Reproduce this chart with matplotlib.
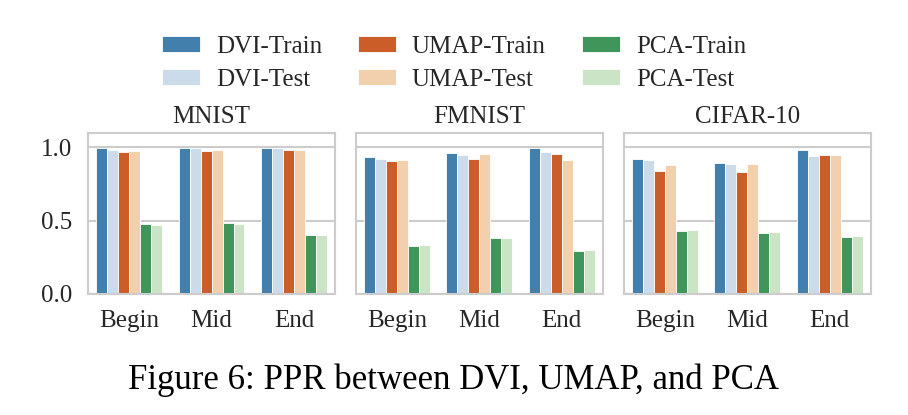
import numpy as np
import seaborn as sns
from matplotlib import pyplot as plt

datasets = ['MNIST', 'FMNIST', 'CIFAR-10']
stages = ['Begin', 'Mid', 'End']
methods = ['DVI-Train', 'DVI-Test', 'UMAP-Train', 'UMAP-Test', 'PCA-Train', 'PCA-Test']

# values per dataset: rows = stages, columns = methods
mnist = [[0.993, 0.984, 0.972, 0.977, 0.476, 0.469],
         [0.998, 0.995, 0.979, 0.984, 0.485, 0.476],
         [0.998, 0.998, 0.982, 0.982, 0.404, 0.400]]
fmnist = [[0.933, 0.922, 0.910, 0.915, 0.329, 0.332],
          [0.961, 0.949, 0.922, 0.952, 0.382, 0.380],
          [0.993, 0.972, 0.954, 0.917, 0.290, 0.300]]
cifar = [[0.924, 0.915, 0.836, 0.882, 0.427, 0.439],
         [0.896, 0.887, 0.834, 0.885, 0.416, 0.425],
         [0.982, 0.940, 0.947, 0.947, 0.388, 0.395]]
values = [mnist, fmnist, cifar]

sns.set_style('whitegrid')
plt.rcParams['font.family'] = ['Liberation Serif', 'DejaVu Serif']

tab = sns.color_palette('tab20c')
colors = [sns.desaturate(tab[i], 0.75) for i in [0, 3, 4, 7, 8, 11]]

fig = plt.figure(figsize=(9.08, 4.15), dpi=100)
lefts = [0.097, 0.392, 0.687]
w = 0.272
fs = 18
axes = []
for k in range(3):
    ax = fig.add_axes([lefts[k], 0.292, w, 0.388])
    axes.append(ax)
    data = np.array(values[k])
    x = np.arange(len(stages))
    bw = 0.8 / len(methods)
    for j, m in enumerate(methods):
        ax.bar(x - 0.4 + bw * (j + 0.5), data[:, j], width=bw, color=colors[j],
               edgecolor='white', linewidth=0.6, label=m)
    ax.set_xlim(-0.5, 2.5)
    ax.set_ylim(0, 1.1)
    ax.set_yticks([0, 0.5, 1.0])
    ax.set_xticks(x)
    ax.set_xticklabels(stages, fontsize=fs)
    ax.xaxis.grid(False)
    ax.set_title(datasets[k], fontsize=fs, pad=7)
    ax.tick_params(axis='both', labelsize=fs, pad=8)
    if k == 0:
        ax.set_yticklabels(['0.0', '0.5', '1.0'])
    else:
        ax.set_yticklabels([])
        ax.tick_params(axis='y', length=0)
    for s in ax.spines.values():
        s.set_color('#cccccc')
        s.set_linewidth(1.5)
    ax.set_axisbelow(True)
    ax.yaxis.grid(True, color='#cccccc', linewidth=1.5)

handles, labels = axes[0].get_legend_handles_labels()
fig.legend(handles, labels, ncol=3, loc='center', bbox_to_anchor=(0.5, 0.847),
           frameon=False, fontsize=fs, handlelength=1.5, handleheight=0.6,
           columnspacing=1.45, labelspacing=0.45, handletextpad=0.65)

fig.text(0.5, 0.083, 'Figure 6: PPR between DVI, UMAP, and PCA', ha='center',
         va='center', fontsize=25, color='black')

plt.savefig('out.png', dpi=100)
